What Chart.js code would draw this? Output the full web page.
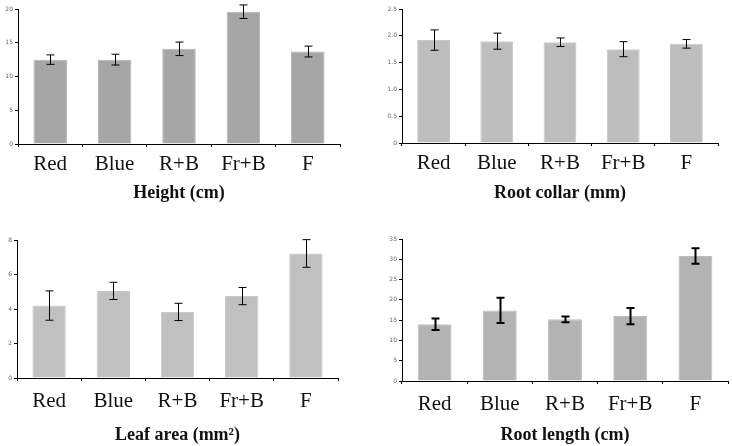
<!DOCTYPE html>
<html>
<head>
<meta charset="utf-8">
<script src="https://cdn.jsdelivr.net/npm/chart.js@4/dist/chart.umd.min.js"></script>
<style>
  body { margin: 0; background: #fff; }
  #wrap { position: relative; width: 732px; height: 446px; overflow: hidden; }
  canvas { position: absolute; }
</style>
</head>
<body>
<div id="wrap">
  <canvas id="c1" width="366" height="204" style="left:0;top:0"></canvas>
  <canvas id="c2" width="366" height="204" style="left:366px;top:0"></canvas>
  <canvas id="c3" width="366" height="221" style="left:0;top:225px"></canvas>
  <canvas id="c4" width="366" height="221" style="left:366px;top:225px"></canvas>
</div>
<script>
var treatments = ["Red", "Blue", "R+B", "Fr+B", "F"];

var heightVals = [12.5, 12.5, 14.1, 19.6, 13.7];
var heightErr = [0.7, 0.8, 1.0, 1.0, 0.8];

var collarVals = [1.92, 1.90, 1.88, 1.75, 1.85];
var collarErr = [0.19, 0.15, 0.08, 0.14, 0.08];

var leafVals = [4.2, 5.05, 3.83, 4.75, 7.22];
var leafErr = [0.85, 0.5, 0.5, 0.5, 0.8];

var rootVals = [14.0, 17.4, 15.2, 16.0, 30.8];
var rootErr = [1.4, 3.1, 0.7, 2.0, 1.9];

// error bars drawn from the y scale
var errorBars = {
  id: "errorBars",
  afterDatasetsDraw: function (chart) {
    var ctx = chart.ctx;
    var ys = chart.scales.y;
    var ds = chart.data.datasets[0];
    var meta = chart.getDatasetMeta(0);
    ctx.save();
    ctx.strokeStyle = "#000";
    ctx.lineWidth = ds.errWidth || 1;
    meta.data.forEach(function (bar, i) {
      var hi = ys.getPixelForValue(ds.data[i] + ds.err[i]);
      var lo = ys.getPixelForValue(ds.data[i] - ds.err[i]);
      var x = Math.round(bar.x) + 0.5;
      var cap = ds.capHalf || 4;
      ctx.beginPath();
      ctx.moveTo(x, hi); ctx.lineTo(x, lo);
      ctx.moveTo(x - cap, hi); ctx.lineTo(x + cap, hi);
      ctx.moveTo(x - cap, lo); ctx.lineTo(x + cap, lo);
      ctx.stroke();
    });
    ctx.restore();
  }
};

function makeChart(id, vals, err, opt) {
  new Chart(id, {
    type: "bar",
    data: {
      labels: treatments,
      datasets: [{
        data: vals,
        err: err,
        errWidth: opt.errWidth,
        capHalf: opt.capHalf,
        backgroundColor: opt.color,
        borderColor: opt.border,
        borderWidth: 1,
        categoryPercentage: 0.52,
        barPercentage: 1
      }]
    },
    options: {
      responsive: false,
      animation: false,
      plugins: { legend: { display: false }, tooltip: { enabled: false } },
      layout: { padding: { left: 0, right: opt.w - opt.right, top: opt.top, bottom: 0 } },
      scales: {
        x: {
          afterFit: function (s) { s.height = opt.h - opt.bottom; },
          grid: { drawOnChartArea: false, drawTicks: true, tickLength: 3, color: "#000" },
          border: { color: "#000", width: 1 },
          ticks: {
            color: "#111",
            padding: opt.labPad,
            font: { family: "'Liberation Serif', 'Times New Roman', serif", size: 21 }
          },
          title: {
            display: true,
            text: opt.title,
            color: "#111",
            padding: { top: 4, bottom: 0 },
            font: { family: "'Liberation Serif', 'Times New Roman', serif", size: 18, weight: "bold" }
          }
        },
        y: {
          min: 0,
          max: opt.max,
          afterFit: function (s) { s.width = opt.left; },
          afterBuildTicks: function (s) {
            s.ticks = opt.ticks.map(function (v) { return { value: v }; });
          },
          grid: { drawOnChartArea: false, drawTicks: true, tickLength: 3, color: "#000" },
          border: { color: "#000", width: 1 },
          ticks: {
            color: "#666",
            padding: 2,
            font: { family: "'DejaVu Sans', sans-serif", size: 6 }
          }
        }
      }
    },
    plugins: [errorBars]
  });
}

makeChart("c1", heightVals, heightErr, {
  w: 366, h: 204, left: 18, right: 340, top: 9, bottom: 144,
  max: 20, ticks: [0, 5, 10, 15, 20], color: "#a6a6a6", border: "#b0b0b0",
  title: "Height (cm)", labPad: 5, errWidth: 1, capHalf: 4
});
makeChart("c2", collarVals, collarErr, {
  w: 366, h: 204, left: 36, right: 352, top: 9, bottom: 143,
  max: 2.5, ticks: [0, 0.5, 1, 1.5, 2, 2.5], color: "#bdbdbd", border: "#c6c6c6",
  title: "Root collar (mm)", labPad: 5, errWidth: 1, capHalf: 4
});
makeChart("c3", leafVals, leafErr, {
  w: 366, h: 221, left: 17, right: 338, top: 15, bottom: 153,
  max: 8, ticks: [0, 2, 4, 6, 8], color: "#c0c0c0", border: "#c8c8c8",
  title: "Leaf area (mm²)", labPad: 8, errWidth: 1, capHalf: 4
});
makeChart("c4", rootVals, rootErr, {
  w: 366, h: 221, left: 36, right: 362, top: 14, bottom: 156,
  max: 35, ticks: [0, 5, 10, 15, 20, 25, 30, 35], color: "#b3b3b3", border: "#bcbcbc",
  title: "Root length (cm)", labPad: 8, errWidth: 2, capHalf: 4
});
</script>
</body>
</html>
